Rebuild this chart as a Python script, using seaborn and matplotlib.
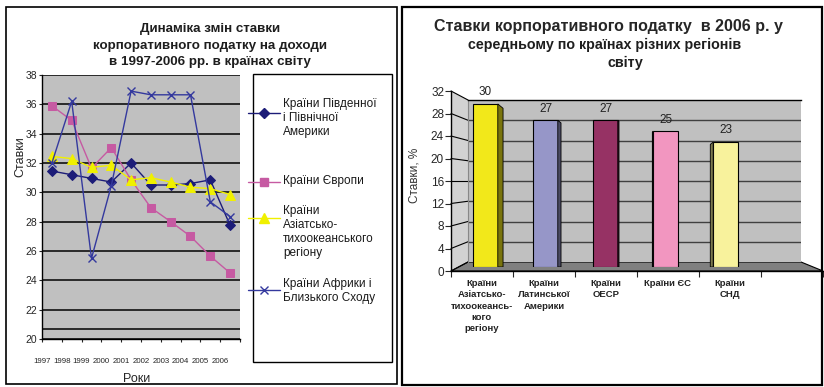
import numpy as np
import pandas as pd
import matplotlib
matplotlib.use("Agg")
import matplotlib.pyplot as plt
from matplotlib.patches import Rectangle, Polygon
from matplotlib.lines import Line2D
from matplotlib.colors import to_rgb
import seaborn as sns

sns.set_style("white")
plt.rcParams["font.family"] = ["Liberation Sans", "DejaVu Sans"]

# ---- data: corporate income tax rates by region, 1997-2006 ----
years = ["1997", "1998", "1999", "2000", "2001", "2002", "2003", "2004", "2005", "2006"]
americas = [31.45, 31.2, 30.95, 30.7, 32.0, 30.5, 30.5, 30.6, 30.85, 27.75]
europe = [35.9, 34.9, 31.65, 33.05, 30.85, 28.95, 28.0, 27.0, 25.65, 24.5]
asia_pacific = [32.45, 32.3, 31.7, 31.85, 30.85, 31.0, 30.7, 30.35, 30.25, 29.85]
africa_me = [32.0, 36.2, 25.5, 30.45, 36.9, 36.65, 36.65, 36.65, 29.35, 28.35]

series_names = [
    "Країни Південної\nі Північної\nАмерики",
    "Країни Європи",
    "Країни\nАзіатсько-\nтихоокеанського\nрегіону",
    "Країни Африки і\nБлизького Сходу",
]

# ---- data: average rates in 2006 ----
regions_2006 = [
    "Країни\nАзіатсько-\nтихоокеансь-\nкого\nрегіону",
    "Країни\nЛатинської\nАмерики",
    "Країни\nОЕСР",
    "Країни ЄС",
    "Країни\nСНД",
]
rates_2006 = [30, 27, 27, 25, 23]
bar_colors = ["#F2E81A", "#9696C8", "#963264", "#F296C0", "#F8F29C"]

W, H = 824, 387


def box(x0, y0, x1, y1):
    """Pixel rectangle (top-left origin) -> figure fraction [l, b, w, h]."""
    return [x0 / W, (H - y1) / H, (x1 - x0) / W, (y1 - y0) / H]


fig = plt.figure(figsize=(W / 100, H / 100), dpi=100)
fig.patch.set_facecolor("white")

# full-figure overlay in pixel units for frames, titles and 3D decoration
ov = fig.add_axes([0, 0, 1, 1])
ov.set_xlim(0, W)
ov.set_ylim(H, 0)
ov.axis("off")
ov.patch.set_alpha(0)

ov.add_patch(Rectangle((6, 7), 391, 377, fill=False, ec="black", lw=1.2))
ov.add_patch(Rectangle((402, 7), 420, 378, fill=False, ec="black", lw=1.6))

# ================= left: line chart =================
for ty, line in zip([29, 46, 62], ["Динаміка змін ставки",
                                   "корпоративного податку на доходи",
                                   "в 1997-2006 рр. в країнах світу"]):
    ov.text(210, ty, line, ha="center", va="center", fontsize=9.6,
            fontweight="bold", color="#1E1E1E")
ov.text(20, 157, "Ставки", rotation=90, ha="center", va="center", fontsize=9)
ov.text(137, 379, "Роки", ha="center", va="center", fontsize=9)

ax = fig.add_axes(box(42, 75, 240, 339))
ax.set_facecolor("#C0C0C0")
xpos = np.arange(len(years))

line_colors = ["#1C1C78", "#C65AA2", "#F0F000", "#34399E"]
marker_styles = [
    dict(marker="D", markersize=4.6),
    dict(marker="s", markersize=5.2),
    dict(marker="^", markersize=7),
    dict(marker="x", markersize=6, markeredgewidth=1.0),
]
for vals, col, ms in zip([americas, europe, asia_pacific, africa_me],
                         line_colors, marker_styles):
    sns.lineplot(x=xpos, y=vals, ax=ax, linewidth=1.0, color=col,
                 markeredgecolor=col, markerfacecolor=col, **ms)

ax.set_xlim(-0.5, 9.5)
ax.set_ylim(20, 38)
ax.set_yticks(np.arange(20, 39, 2))
ax.set_xticks(np.arange(11) - 0.5)
ax.set_xticklabels(years + [""])
ax.grid(axis="y", color="#1E1E1E", lw=1.3)
ax.grid(axis="x", visible=False)
ax.axhline(20.7, color="#1E1E1E", lw=1.3)
for s in ["top", "right"]:
    ax.spines[s].set_visible(False)
for s in ["left", "bottom"]:
    ax.spines[s].set_color("black")
    ax.spines[s].set_linewidth(1.0)
ax.tick_params(axis="x", direction="out", length=2.5, width=0.8, pad=11,
               labelsize=5.7, bottom=True)
ax.tick_params(axis="y", direction="out", length=2.5, width=0.8, pad=1,
               labelsize=7.5, left=True)
ax.set_xlabel("")
ax.set_ylabel("")

# legend drawn inside its own box
ov.add_patch(Rectangle((253, 74), 139, 288, fill=False, ec="black", lw=1.0))
leg_marker_y = [113, 182, 218, 290]
leg_text_y = [118, 181, 232, 291]
for name, col, ms, my, ty in zip(series_names, line_colors, marker_styles,
                                 leg_marker_y, leg_text_y):
    ov.add_line(Line2D([248, 280], [my, my], lw=1.0, color=col))
    ov.add_line(Line2D([264], [my], lw=0, color=col, markeredgecolor=col,
                       markerfacecolor=col, **ms))
    ov.text(283, ty, name, ha="left", va="center", fontsize=8.5,
            linespacing=1.25, color="#1A1A1A")

# ================= right: 3D-style bar chart =================
ov.text(608, 27, "Ставки корпоративного податку  в 2006 р. у", ha="center",
        va="center", fontsize=11.5, fontweight="bold")
ov.text(605, 45, "середньому по країнах різних регіонів", ha="center",
        va="center", fontsize=10.3, fontweight="bold", color="#1E1E1E")
ov.text(625, 63, "світу", ha="center", va="center", fontsize=10.3,
        fontweight="bold", color="#1E1E1E")
ov.text(415, 175, "Ставки, %", rotation=90, ha="center", va="center",
        fontsize=8.5, color="#333333")

FX0, FY0, FY1 = 451, 271, 91      # front axis: x, y(0), y(32)
BX0, BX1, BY0, BY1 = 468, 801, 262, 100  # back wall
ymax = 32
tick_vals = np.arange(0, ymax + 1, 4)

# side wall and floor
ov.add_patch(Polygon([(FX0, FY1), (BX0, BY1), (BX0, BY0), (FX0, FY0)],
                     closed=True, fc="#D2D2D2", ec="none"))
ov.add_patch(Polygon([(FX0, FY0), (BX0, BY0), (BX1, BY0), (823, FY0)],
                     closed=True, fc="#808080", ec="black", lw=0.8))
for v in tick_vals:
    yf = FY0 - (FY0 - FY1) * v / ymax
    yb = BY0 - (BY0 - BY1) * v / ymax
    ov.add_line(Line2D([FX0, BX0], [yf, yb], color="black", lw=0.8))

# back wall with gridlines
axb = fig.add_axes(box(BX0, BY1, BX1, BY0))
axb.set_facecolor("#C0C0C0")
axb.set_ylim(0, ymax)
axb.set_xlim(0, 1)
axb.set_yticks(tick_vals[1:-1])
axb.set_xticks([])
axb.grid(axis="y", color="#404040", lw=1.0)
axb.tick_params(left=False, labelleft=False)
for s in ["right", "bottom"]:
    axb.spines[s].set_visible(False)
axb.spines["top"].set_color("black")
axb.spines["top"].set_linewidth(1.0)
axb.spines["left"].set_color("#888888")
axb.spines["left"].set_linewidth(0.8)

# front axes: value axis and category axis
axf = fig.add_axes(box(FX0, FY1, 823, FY0))
axf.patch.set_alpha(0)
axf.set_xlim(-0.5, 5.5)
axf.set_ylim(0, ymax)
axf.set_yticks(tick_vals)
axf.set_xticks(np.arange(7) - 0.5)
axf.set_xticklabels([""] * 7)
axf.set_xticks(np.arange(len(regions_2006)), minor=True)
axf.set_xticklabels(regions_2006, minor=True, fontsize=6.8, fontweight="bold",
                    color="#222222", linespacing=1.3)
axf.tick_params(axis="x", which="major", direction="out", length=4, width=0.8,
                bottom=True)
axf.tick_params(axis="x", which="minor", length=0, pad=6, bottom=True)
axf.tick_params(axis="y", direction="out", length=4, width=0.8, pad=1,
                labelsize=8.5, left=True)
for s in ["top", "right"]:
    axf.spines[s].set_visible(False)
for s in ["left", "bottom"]:
    axf.spines[s].set_color("black")
    axf.spines[s].set_linewidth(1.0)

# bars at mid depth
BARX0, BARX1, BARY0 = 455.5, 815.5, 267
bar_w = 0.41
bar_scale = (BARY0 - 104) / 30.0  # px per unit at mid depth
ax2 = fig.add_axes(box(BARX0, BARY0 - bar_scale * ymax, BARX1, BARY0))
df = pd.DataFrame({"region": regions_2006, "rate": rates_2006})
sns.barplot(data=df, x="region", y="rate", hue="region", palette=bar_colors,
            width=bar_w, saturation=1, edgecolor="black", linewidth=0.8,
            legend=False, ax=ax2)
ax2.set_xlim(-0.5, 5.5)
ax2.set_ylim(0, ymax)
ax2.axis("off")
ax2.patch.set_alpha(0)

px_per_cat = (BARX1 - BARX0) / 6.0
for i, (v, c) in enumerate(zip(rates_2006, bar_colors)):
    cx = BARX0 + (i + 0.5) * px_per_cat
    s_px = 0.034 * (640 - cx)
    s = s_px / px_per_cat
    drop = 0.75 * abs(s_px) / 5.0
    edge = i + bar_w / 2 if s > 0 else i - bar_w / 2
    shade = tuple(np.array(to_rgb(c)) * 0.5)
    if abs(s_px) > 0.3:
        ax2.add_patch(Polygon([(edge, 0), (edge, v), (edge + s, v - drop),
                               (edge + s, 0)], closed=True, fc=shade,
                              ec="black", lw=0.6))

for cont in ax2.containers:
    ax2.bar_label(cont, fmt="%g", padding=4, fontsize=8.5, color="#222222")

fig.savefig("out.png", dpi=100, facecolor="white")
